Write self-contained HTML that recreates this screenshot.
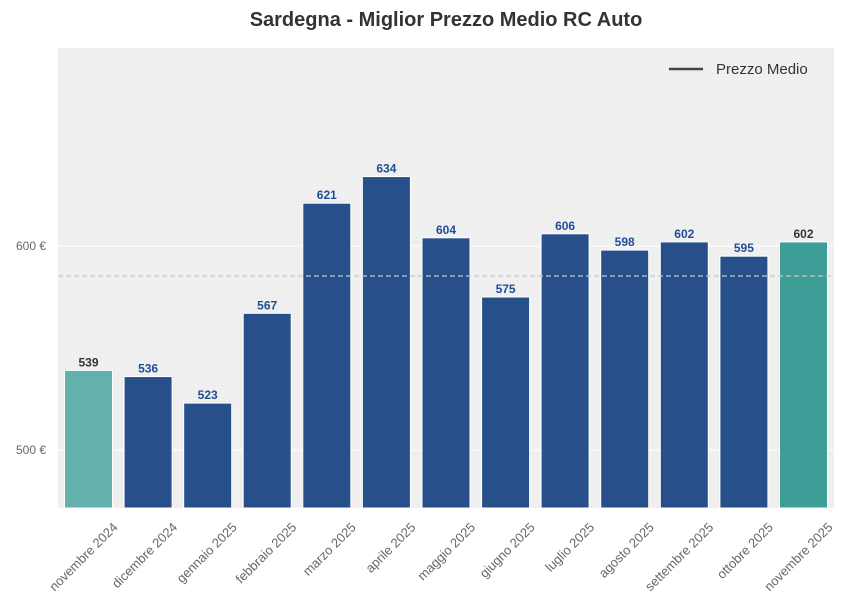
<!DOCTYPE html>
<html><head><meta charset="utf-8"><style>
body{margin:0;background:#fff;}
svg{display:block;font-family:"Liberation Sans",Arial,sans-serif;}
</style></head><body>
<svg width="852" height="610" viewBox="0 0 852 610">
<defs>
<pattern id="dots" width="4" height="4" patternUnits="userSpaceOnUse">
<rect width="4" height="4" fill="#f0f0f0"/><rect x="1" y="1" width="1" height="1" fill="#e4e4e4"/>
</pattern>
</defs>
<text x="446" y="26" text-anchor="middle" font-size="20" font-weight="bold" fill="#333">Sardegna - Miglior Prezzo Medio RC Auto</text>
<rect x="58" y="48" width="776" height="460" fill="url(#dots)"/>
<line x1="58" y1="246" x2="834" y2="246" stroke="#fff" stroke-width="1"/>
<line x1="58" y1="450" x2="834" y2="450" stroke="#fff" stroke-width="1"/>
<text x="46" y="250" text-anchor="end" font-size="12" fill="#666">600 €</text>
<text x="46" y="454" text-anchor="end" font-size="12" fill="#666">500 €</text>
<g stroke="#fff" stroke-width="1">
<rect x="64.5" y="370.4" width="48" height="137.6" fill="#63b1ac"/>
<rect x="124.1" y="376.6" width="48" height="131.4" fill="#274f8a"/>
<rect x="183.7" y="403.1" width="48" height="104.9" fill="#274f8a"/>
<rect x="243.2" y="313.3" width="48" height="194.7" fill="#274f8a"/>
<rect x="302.8" y="203.2" width="48" height="304.8" fill="#274f8a"/>
<rect x="362.4" y="176.6" width="48" height="331.4" fill="#274f8a"/>
<rect x="422" y="237.8" width="48" height="270.2" fill="#274f8a"/>
<rect x="481.6" y="297" width="48" height="211" fill="#274f8a"/>
<rect x="541.1" y="233.8" width="48" height="274.2" fill="#274f8a"/>
<rect x="600.7" y="250.1" width="48" height="257.9" fill="#274f8a"/>
<rect x="660.3" y="241.9" width="48" height="266.1" fill="#274f8a"/>
<rect x="719.9" y="256.2" width="48" height="251.8" fill="#274f8a"/>
<rect x="779.5" y="241.9" width="48" height="266.1" fill="#3d9e98"/>
</g>
<g font-size="12" font-weight="bold" text-anchor="middle" fill="#1f4e96">
<text x="88.5" y="366.4" fill="#333">539</text>
<text x="148.1" y="372.6">536</text>
<text x="207.7" y="399.1">523</text>
<text x="267.2" y="309.3">567</text>
<text x="326.8" y="199.2">621</text>
<text x="386.4" y="172.6">634</text>
<text x="446" y="233.8">604</text>
<text x="505.6" y="293">575</text>
<text x="565.1" y="229.8">606</text>
<text x="624.7" y="246.1">598</text>
<text x="684.3" y="237.9">602</text>
<text x="743.9" y="252.2">595</text>
<text x="803.5" y="237.9" fill="#333">602</text>
</g>
<line x1="58" y1="276" x2="834" y2="276" stroke="#c8c8c8" stroke-width="1.2" stroke-dasharray="5,3"/>
<g font-size="13" fill="#666" text-anchor="end">
<text transform="translate(118.5,528) rotate(-45)">novembre 2024</text>
<text transform="translate(178.1,528) rotate(-45)">dicembre 2024</text>
<text transform="translate(237.7,528) rotate(-45)">gennaio 2025</text>
<text transform="translate(297.2,528) rotate(-45)">febbraio 2025</text>
<text transform="translate(356.8,528) rotate(-45)">marzo 2025</text>
<text transform="translate(416.4,528) rotate(-45)">aprile 2025</text>
<text transform="translate(476,528) rotate(-45)">maggio 2025</text>
<text transform="translate(535.6,528) rotate(-45)">giugno 2025</text>
<text transform="translate(595.1,528) rotate(-45)">luglio 2025</text>
<text transform="translate(654.7,528) rotate(-45)">agosto 2025</text>
<text transform="translate(714.3,528) rotate(-45)">settembre 2025</text>
<text transform="translate(773.9,528) rotate(-45)">ottobre 2025</text>
<text transform="translate(833.5,528) rotate(-45)">novembre 2025</text>
</g>
<line x1="669" y1="69" x2="703" y2="69" stroke="#444" stroke-width="2.5"/>
<text x="716" y="74" font-size="15" fill="#333">Prezzo Medio</text>
</svg>
</body></html>
